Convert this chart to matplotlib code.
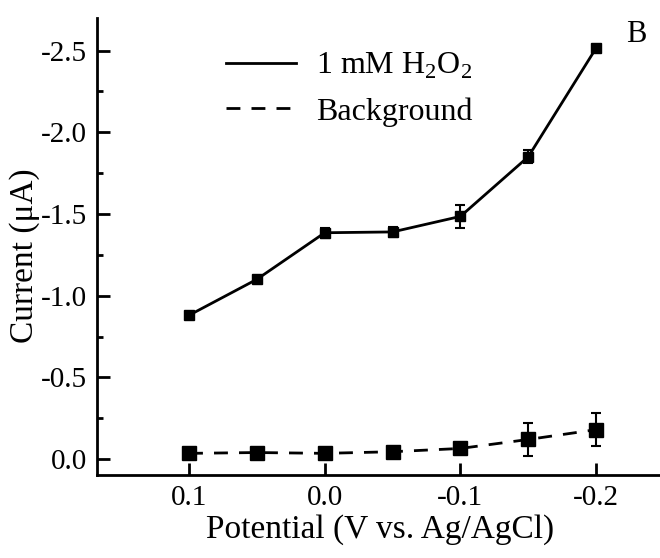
import numpy as np
import matplotlib.pyplot as plt
from matplotlib.lines import Line2D
from matplotlib.ticker import MultipleLocator

plt.rcParams['font.family'] = ['Liberation Serif', 'DejaVu Serif']
plt.rcParams['mathtext.fontset'] = 'custom'
plt.rcParams['mathtext.rm'] = 'Liberation Serif'

potential = [0.1, 0.05, 0.0, -0.05, -0.1, -0.15, -0.2]
h2o2 = [-0.88, -1.10, -1.385, -1.39, -1.485, -1.85, -2.515]
h2o2_err = [0.01, 0.01, 0.03, 0.03, 0.07, 0.04, 0.02]
background = [-0.035, -0.04, -0.035, -0.045, -0.065, -0.12, -0.18]
bg_err = [0.0, 0.0, 0.0, 0.0, 0.01, 0.10, 0.10]

fig = plt.figure(figsize=(6.6, 5.58), dpi=100)
ax = fig.add_axes([0.147, 0.148, 0.859, 0.82])

dash = (0, (5, 4))
ax.errorbar(potential, h2o2, yerr=h2o2_err, color='black', lw=2, ls='-',
            marker='s', ms=7, capsize=3.5, elinewidth=1.5, capthick=1.5)
ax.errorbar(potential, background, yerr=bg_err, color='black', lw=2, ls=dash,
            marker='s', ms=10, capsize=3.5, elinewidth=1.5, capthick=1.5)

ax.set_xlim(0.1678, -0.25)
ax.set_ylim(0.1, -2.7)
ax.set_xticks([0.1, 0.0, -0.1, -0.2])
ax.set_xticklabels(['0.1', '0.0', '-0.1', '-0.2'])
ax.set_yticks([0.0, -0.5, -1.0, -1.5, -2.0, -2.5])
ax.set_yticklabels(['0.0', '-0.5', '-1.0', '-1.5', '-2.0', '-2.5'])
ax.yaxis.set_minor_locator(MultipleLocator(0.25))

ax.spines['top'].set_visible(False)
ax.spines['right'].set_visible(False)
ax.spines['left'].set_linewidth(2)
ax.spines['bottom'].set_linewidth(2)
ax.tick_params(which='major', direction='in', length=9, width=2, labelsize=21, pad=7)
ax.tick_params(which='minor', direction='in', length=4, width=2)

ax.set_xlabel('Potential (V vs. Ag/AgCl)', fontsize=24, labelpad=2)
ax.set_ylabel('Current (\u03bcA)', fontsize=24, labelpad=0)
ax.yaxis.set_label_coords(-0.1, 0.48)

handles = [Line2D([], [], color='black', lw=2, ls='-'),
           Line2D([], [], color='black', lw=2, ls=dash)]
ax.legend(handles, ['1 mM H$_2$O$_2$', 'Background'], loc='upper left',
          bbox_to_anchor=(0.177, 0.991), frameon=False, fontsize=23,
          handlelength=2.2, handletextpad=0.6, labelspacing=0.5)

fig.text(0.948, 0.925, 'B', fontsize=22)

fig.savefig('out.png', dpi=100)
